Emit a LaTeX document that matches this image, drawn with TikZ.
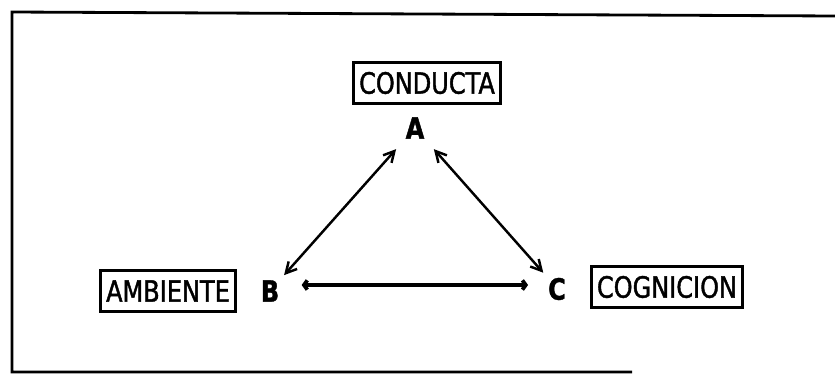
\documentclass[tikz,border=0pt]{standalone}
\usepackage{fontspec}
\setmainfont{DejaVu Sans}[FakeStretch=0.82,FakeBold=1.4]
\usetikzlibrary{arrows.meta}

\begin{document}
\begin{tikzpicture}[x=0.03cm,y=-0.03cm,box/.style={draw,line width=2.5pt,inner xsep=5pt,minimum height=1.25cm,font=\fontsize{25}{30}\selectfont},vertex/.style={font=\bfseries\fontsize{25}{30}\selectfont,inner sep=2pt},arr/.style={{Straight Barb[length=3.2mm,width=3.4mm]}-{Straight Barb[length=3.2mm,width=3.4mm]},line width=2.1pt},base/.style={{Straight Barb[length=1mm,width=2.8mm]}-{Straight Barb[length=1mm,width=2.8mm]},line width=3.2pt}]
\useasboundingbox(0,0)rectangle(835,385);
\draw[line width=2.4pt](835,16)--(12,12)--(12,372)--(632,372);
\node[box](conducta)at(427,83){CONDUCTA};
\node[box](ambiente)at(168,291){AMBIENTE};
\node[box](cognicion)at(667,287){COGNICION};
\node[vertex](A)at(415,128){A};
\node[vertex](B)at(270,291){B};
\node[vertex](C)at(557,289){C};
\draw[arr,shorten <=9pt,shorten >=3pt](A.south west)--(B.north east);\draw[arr,shorten <=9pt,shorten >=3pt](A.south east)--(C.north west);
\draw[base,shorten <=17pt,shorten >=15pt]([yshift=0.18cm]B.east)--([yshift=0.12cm]C.west);
\end{tikzpicture}
\end{document}
